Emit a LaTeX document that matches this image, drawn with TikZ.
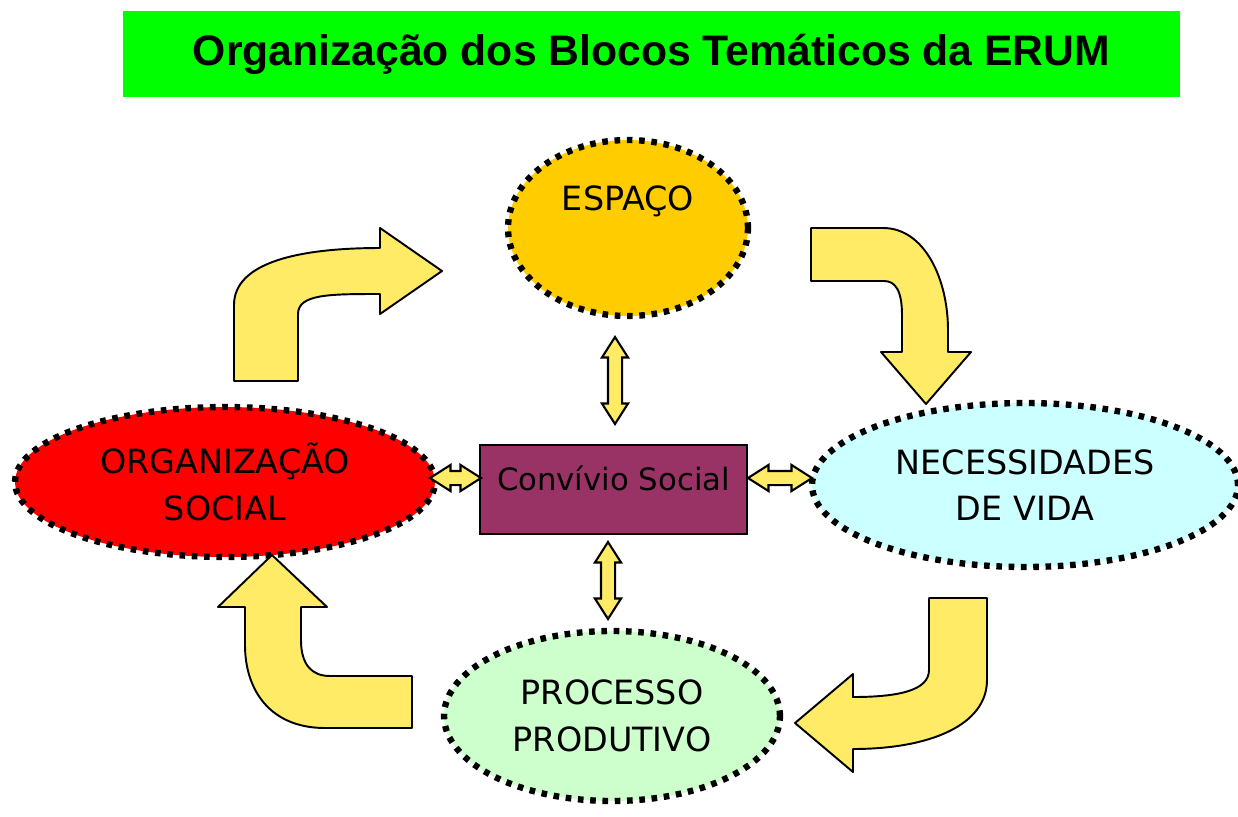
\documentclass[tikz,border=0pt]{standalone}
\usepackage{fontspec}
\setmainfont{Liberation Sans}
\newfontfamily\blocofont{DejaVu Sans}
\usetikzlibrary{shapes.geometric,shapes.arrows}

\definecolor{verdetitulo}{RGB}{0,255,0}
\definecolor{amareloseta}{RGB}{255,235,102}
\definecolor{laranja}{RGB}{255,204,0}
\definecolor{ciano}{RGB}{204,255,255}
\definecolor{verdeclaro}{RGB}{204,255,204}
\definecolor{vinho}{RGB}{153,51,102}

\begin{document}
\begin{tikzpicture}[x=0.02cm,y=-0.02cm,
    bloco/.style={ellipse, draw=black, line width=3.6pt,
        dash pattern=on 3.2pt off 3.8pt, inner sep=0pt, align=center,
        font=\blocofont\fontsize{19}{26.5}\selectfont},
    curva/.style={draw=black, line width=1.1pt, fill=amareloseta, line join=round},
    duplaseta/.style={double arrow, draw=black, line width=1.2pt, fill=amareloseta,
        inner sep=0.12cm, double arrow head extend=0.12cm, double arrow tip angle=65}]
    \useasboundingbox (0,0) rectangle (1238,816);

    % titulo
    \node[fill=verdetitulo, minimum width=21.14cm, minimum height=1.72cm,
        font=\bfseries\fontsize{24.3}{28}\selectfont] (titulo) at (651.5,54) {Organização dos Blocos Temáticos da ERUM};

    % blocos
    \node[bloco, fill=laranja, minimum width=4.8cm, minimum height=3.52cm,
        label={[yshift=0.54cm, font=\blocofont\fontsize{19}{26.5}\selectfont]center:ESPAÇO}] (espaco) at (628,228) {};
    \node[bloco, fill=red, minimum width=8.4cm, minimum height=3.0cm] (organizacao) at (225,482) {ORGANIZAÇÃO\\SOCIAL};
    \node[bloco, fill=ciano, minimum width=8.52cm, minimum height=3.28cm] (necessidades) at (1025,485) {NECESSIDADES\\DE VIDA};
    \node[bloco, fill=verdeclaro, minimum width=6.72cm, minimum height=3.4cm] (processo) at (612,716) {PROCESSO\\PRODUTIVO};
    \node[draw=black, line width=1.1pt, fill=vinho, minimum width=5.34cm, minimum height=1.78cm,
        text depth=0.45cm, font=\blocofont\fontsize{17.5}{20}\selectfont] (convivio) at (613.5,489.5) {Convívio Social};

    % setas duplas
    \node[duplaseta, minimum height=1.74cm, rotate=90] (s1) at (615,380.5) {};
    \node[duplaseta, minimum height=1.54cm, rotate=90] (s2) at (608,580.5) {};
    \node[duplaseta, minimum height=1.02cm] (s3) at (455.5,478) {};
    \node[duplaseta, minimum height=1.28cm] (s4) at (780,478) {};

    % setas curvas
    \draw[curva] (234,381) -- (234,305) .. controls (234,262) and (300,248) .. (380,248)
        -- (380,228) -- (442,271) -- (380,314) -- (380,294)
        .. controls (330,294) and (298,294) .. (298,314) -- (298,381) -- cycle;
    \draw[curva] (811,228) -- (883,228) .. controls (925,228) and (948,280) .. (948,330)
        -- (948,352) -- (971,352) -- (926,404) -- (881,352) -- (902,352) -- (902,315)
        .. controls (902,290) and (895,281) .. (884,281) -- (811,281) -- cycle;
    \draw[curva] (929,598) -- (987,598) -- (987,680) .. controls (987,725) and (930,749) .. (853,749)
        -- (853,772) -- (795,723) -- (853,674) -- (853,697)
        .. controls (900,697) and (929,690) .. (929,670) -- cycle;
    \draw[curva] (412,676) -- (412,728) -- (325,728) .. controls (270,728) and (245,690) .. (245,645)
        -- (245,607) -- (218,607) -- (272,555) -- (327,607) -- (301,607) -- (301,640)
        .. controls (301,665) and (312,676) .. (330,676) -- cycle;
\end{tikzpicture}
\end{document}
